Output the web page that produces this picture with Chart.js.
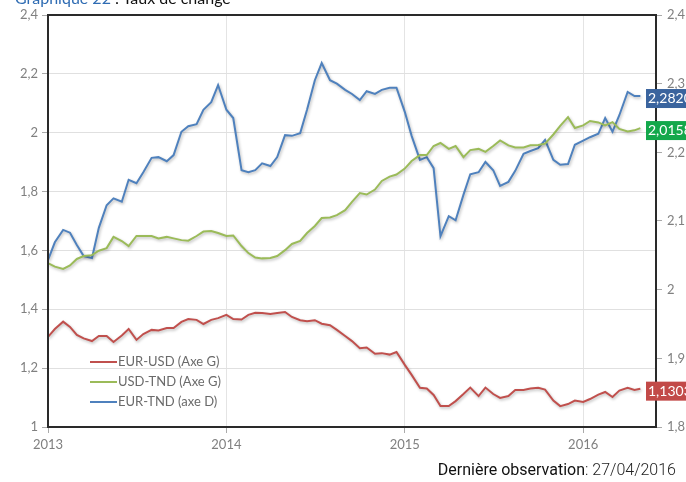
<!DOCTYPE html>
<html>
<head>
<meta charset="utf-8">
<script src="https://cdn.jsdelivr.net/npm/chart.js@4.4.1/dist/chart.umd.min.js"></script>
<style>
  html, body { margin: 0; padding: 0; background: #fff; }
  #wrap { position: relative; width: 686px; height: 482px; overflow: hidden; }
  #c { position: absolute; left: 0; top: 0; }
  #title { position: absolute; left: 15px; top: -10px; font-family: Lato, sans-serif; font-size: 16px; line-height: 16px; white-space: nowrap; color: #111; }
  #title .b { color: #2f6cb3; }
  #note { position: absolute; right: 10px; top: 460px; font-family: Roboto, sans-serif; font-size: 16px; line-height: 20px; white-space: nowrap; color: #111; }
  #note .l { font-weight: 300; color: #222; }
</style>
</head>
<body>
<div id="wrap">
  <canvas id="c" width="686" height="482"></canvas>
  <div id="title"><span class="b">Graphique 22</span> : Taux de change</div>
  <div id="note"><span>Dernière observation</span><span class="l">: 27/04/2016</span></div>
</div>
<script>
// ---- Data ----
const dates = [
 '2013-01-01','2013-01-15','2013-02-01','2013-02-15','2013-03-01','2013-03-15','2013-04-01','2013-04-15',
 '2013-05-01','2013-05-15','2013-06-01','2013-06-15','2013-07-01','2013-07-15','2013-08-01','2013-08-15',
 '2013-09-01','2013-09-15','2013-10-01','2013-10-15','2013-11-01','2013-11-15','2013-12-01','2013-12-15',
 '2014-01-01','2014-01-15','2014-02-01','2014-02-15','2014-03-01','2014-03-15','2014-04-01','2014-04-15',
 '2014-05-01','2014-05-15','2014-06-01','2014-06-15','2014-07-01','2014-07-15','2014-08-01','2014-08-15',
 '2014-09-01','2014-09-15','2014-10-01','2014-10-15','2014-11-01','2014-11-15','2014-12-01','2014-12-15',
 '2015-01-01','2015-01-15','2015-02-01','2015-02-15','2015-03-01','2015-03-15','2015-04-01','2015-04-15',
 '2015-05-01','2015-05-15','2015-06-01','2015-06-15','2015-07-01','2015-07-15','2015-08-01','2015-08-15',
 '2015-09-01','2015-09-15','2015-10-01','2015-10-15','2015-11-01','2015-11-15','2015-12-01','2015-12-15',
 '2016-01-01','2016-01-15','2016-02-01','2016-02-15','2016-03-01','2016-03-15','2016-04-01','2016-04-15',
 '2016-04-27'
];
const eurUsd = [
 1.306,1.333,1.358,1.340,1.313,1.301,1.292,1.309,1.309,1.289,1.311,1.333,1.296,1.316,1.330,1.328,1.336,1.336,1.357,1.367,1.364,1.350,1.364,1.370,
 1.381,1.367,1.365,1.381,1.388,1.387,1.384,1.387,1.391,1.374,1.363,1.359,1.363,1.351,1.346,1.330,1.309,1.292,1.268,1.270,1.249,1.251,1.246,1.255,
 1.211,1.177,1.133,1.131,1.109,1.071,1.071,1.088,1.112,1.134,1.105,1.134,1.112,1.099,1.105,1.126,1.126,1.131,1.133,1.127,1.090,1.071,1.078,1.090,
 1.085,1.095,1.110,1.119,1.102,1.124,1.133,1.126,1.1303
];
const usdTnd = [
 1.557,1.545,1.537,1.549,1.571,1.581,1.584,1.599,1.608,1.646,1.632,1.615,1.649,1.649,1.649,1.641,1.646,1.641,1.635,1.633,1.649,1.664,1.666,1.659,
 1.649,1.651,1.615,1.591,1.576,1.573,1.574,1.581,1.601,1.622,1.632,1.659,1.683,1.710,1.712,1.720,1.737,1.765,1.795,1.790,1.807,1.836,1.851,1.858,
 1.878,1.904,1.924,1.924,1.955,1.965,1.945,1.955,1.917,1.941,1.945,1.935,1.955,1.974,1.957,1.950,1.950,1.957,1.958,1.963,1.994,2.023,2.053,2.016,
 2.025,2.040,2.035,2.025,2.036,2.013,2.004,2.008,2.0158
];
const eurTnd = [
 2.043,2.069,2.087,2.083,2.065,2.049,2.046,2.090,2.123,2.133,2.128,2.160,2.155,2.171,2.192,2.193,2.187,2.196,2.230,2.238,2.241,2.262,2.273,2.298,
 2.262,2.250,2.174,2.171,2.174,2.184,2.180,2.193,2.225,2.224,2.228,2.262,2.305,2.330,2.305,2.300,2.291,2.285,2.276,2.289,2.285,2.291,2.294,2.294,
 2.259,2.224,2.189,2.193,2.177,2.078,2.107,2.101,2.138,2.168,2.171,2.186,2.174,2.151,2.157,2.173,2.198,2.202,2.206,2.218,2.189,2.182,2.183,2.211,
 2.217,2.222,2.227,2.250,2.230,2.254,2.288,2.282,2.2820
];
const seriesNames = ['EUR-USD (Axe G)', 'USD-TND (Axe G)', 'EUR-TND (axe D)'];
const yearTicks = [2013, 2014, 2015, 2016];
const xMin = '2013-01-01';
const xMax = '2016-05-29';

// ---- Build ----
const toMs = d => Date.parse(d + 'T00:00:00Z');
const pts = arr => arr.map((v, i) => ({ x: toMs(dates[i]), y: v }));
const fmt = v => { const r = Math.round(v * 10) / 10; return String(r).replace('.', ','); };
const fmt4 = v => v.toFixed(4).replace('.', ',');

const lineColors = ['#c0504d', '#9bbb59', '#4f81bd'];
const boxColors = ['#c24a48', '#13a84b', '#3a649e'];

const shadowPlugin = {
  id: 'shadow',
  beforeDatasetsDraw(chart) {
    const ctx = chart.ctx; ctx.save();
    ctx.shadowColor = 'rgba(0,0,0,0.28)'; ctx.shadowBlur = 3; ctx.shadowOffsetX = 1; ctx.shadowOffsetY = 1.5;
  },
  afterDatasetsDraw(chart) { chart.ctx.restore(); }
};

const decorPlugin = {
  id: 'decor',
  afterDraw(chart) {
    const ctx = chart.ctx, a = chart.chartArea;
    // frame
    ctx.save();
    ctx.strokeStyle = '#2a2a2a'; ctx.lineWidth = 2;
    ctx.strokeRect(a.left, a.top, a.right - a.left, a.bottom - a.top);
    // legend
    ctx.font = '13px Lato, sans-serif'; ctx.textBaseline = 'middle'; ctx.textAlign = 'left';
    seriesNames.forEach((n, i) => {
      const y = 362 + i * 20;
      ctx.strokeStyle = lineColors[i]; ctx.lineWidth = 2;
      ctx.beginPath(); ctx.moveTo(90, y); ctx.lineTo(117, y); ctx.stroke();
      ctx.fillStyle = '#6a6a6a'; ctx.fillText(n, 118, y);
    });
    // last value boxes
    ctx.font = '14px Lato, sans-serif';
    chart.data.datasets.forEach((ds, i) => {
      const meta = chart.getDatasetMeta(i);
      const p = meta.data[meta.data.length - 1];
      const v = ds.data[ds.data.length - 1].y;
      const cy = p.y + 2;
      ctx.fillStyle = boxColors[i];
      ctx.fillRect(646, cy - 9, 50, 19);
      ctx.fillStyle = '#fff';
      ctx.fillText(fmt4(v), 648, cy + 0.5);
    });
    ctx.restore();
  }
};

const tickFont = { family: 'Lato, sans-serif', size: 13 };
const tickColor = '#808080';

new Chart(document.getElementById('c'), {
  type: 'line',
  data: {
    datasets: [
      { label: seriesNames[0], data: pts(eurUsd), borderColor: lineColors[0], yAxisID: 'y' },
      { label: seriesNames[1], data: pts(usdTnd), borderColor: lineColors[1], yAxisID: 'y' },
      { label: seriesNames[2], data: pts(eurTnd), borderColor: lineColors[2], yAxisID: 'y1' }
    ]
  },
  options: {
    responsive: false,
    animation: false,
    devicePixelRatio: 1,
    elements: { point: { radius: 0 }, line: { borderWidth: 2, tension: 0 } },
    layout: { padding: { top: 15, left: 0, right: 0, bottom: 0 } },
    plugins: { legend: { display: false }, tooltip: { enabled: false } },
    scales: {
      x: {
        type: 'linear', position: 'bottom',
        min: toMs(xMin), max: toMs(xMax),
        afterBuildTicks: s => { s.ticks = yearTicks.map(y => ({ value: toMs(y + '-01-01') })); },
        ticks: { callback: v => String(new Date(v).getUTCFullYear()), font: tickFont, color: tickColor, padding: 4, maxRotation: 0, autoSkip: false },
        grid: { color: '#e4e4e4', tickColor: '#aaa', tickLength: 6 },
        border: { display: false },
        afterFit: s => { s.height = 55; }
      },
      y: {
        position: 'left', min: 1, max: 2.4,
        afterBuildTicks: s => { s.ticks = [1, 1.2, 1.4, 1.6, 1.8, 2, 2.2, 2.4].map(v => ({ value: v })); },
        ticks: { callback: fmt, font: tickFont, color: tickColor, padding: 4 },
        grid: { color: '#e0e0e0', tickColor: '#aaa', tickLength: 6 },
        border: { display: false },
        afterFit: s => { s.width = 48; }
      },
      y1: {
        position: 'right', min: 1.8, max: 2.4,
        afterBuildTicks: s => { s.ticks = [1.8, 1.9, 2, 2.1, 2.2, 2.3, 2.4].map(v => ({ value: v })); },
        ticks: { callback: fmt, font: tickFont, color: tickColor, padding: 5 },
        grid: { drawOnChartArea: false, tickColor: '#aaa', tickLength: 6 },
        border: { display: false },
        afterFit: s => { s.width = 30; }
      }
    }
  },
  plugins: [shadowPlugin, decorPlugin]
});
</script>
</body>
</html>
